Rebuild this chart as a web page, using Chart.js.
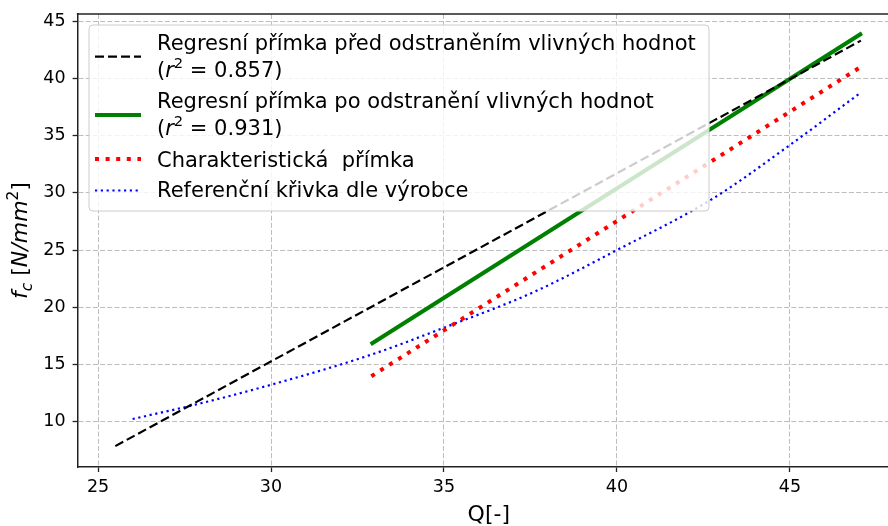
<!DOCTYPE html>
<html>
<head>
<meta charset="utf-8">
<script src="https://cdn.jsdelivr.net/npm/chart.js@4.4.1/dist/chart.umd.min.js"></script>
<style>
  html, body { margin: 0; padding: 0; background: #fff; overflow: hidden; width: 888px; height: 526px; }
  canvas { display: block; }
</style>
</head>
<body>
<canvas id="grafQ" width="900" height="526"></canvas>
<script>
// hodnoty
const qPred = [25.5, 47.05];
const fcPred = [7.83, 43.34];
const qPo = [32.88, 47.08];
const fcPo = [16.75, 43.98];
const qChar = [32.9, 47.08];
const fcChar = [13.95, 41.1];
const qRef = [26.0, 28.0, 30.0, 32.86, 35.0, 37.58, 40.0, 42.77, 45.0, 47.05];
const fcRef = [10.2, 11.6, 13.2, 15.8, 18.2, 21.3, 25.0, 29.5, 34.2, 38.8];
const xTicks = [25, 30, 35, 40, 45];
const yTicks = [10, 15, 20, 25, 30, 35, 40, 45];
const r2 = ['0.857', '0.931'];
const nazvy = [
  'Regresní přímka před odstraněním vlivných hodnot',
  'Regresní přímka po odstranění vlivných hodnot',
  'Charakteristická  přímka',
  'Referenční křivka dle výrobce'
];

const FONT = '"DejaVu Sans", sans-serif';
const body = (qs, fs) => qs.map((q, i) => ({ x: q, y: fs[i] }));

// text s kurzivou / indexy (jako mathtext)
function kusy(ctx, x, y, parts, size) {
  parts.forEach(p => {
    let s = size * (p.sc || 1);
    ctx.font = (p.it ? 'italic ' : '') + s + 'px ' + FONT;
    ctx.fillText(p.t, x, y + (p.dy || 0) * size);
    x += ctx.measureText(p.t).width;
  });
  return x;
}
function sirka(ctx, parts, size) {
  let w = 0;
  parts.forEach(p => {
    ctx.font = (p.it ? 'italic ' : '') + size * (p.sc || 1) + 'px ' + FONT;
    w += ctx.measureText(p.t).width;
  });
  return w;
}
const r2Kusy = v => [{ t: '(' }, { t: 'r', it: true }, { t: '2', sc: 0.7, dy: -0.42 }, { t: ' = ' + v + ')' }];

const legendaPlugin = {
  id: 'legendaPlugin',
  afterDatasetsDraw(chart) {
    const ctx = chart.ctx;
    const a = chart.chartArea;
    const ds = chart.data.datasets;
    const bx = a.left + 11.4, by = a.top + 11;
    ctx.save();
    ctx.beginPath();
    ctx.roundRect(bx, by, 620, 186, 4);
    ctx.fillStyle = 'rgba(255,255,255,0.8)';
    ctx.fill();
    ctx.strokeStyle = '#cccccc';
    ctx.lineWidth = 1;
    ctx.stroke();

    const handleY = [56.7, 115, 159, 190.5];
    handleY.forEach((hy, i) => {
      ctx.beginPath();
      ctx.setLineDash(ds[i].borderDash || []);
      ctx.lineWidth = ds[i].borderWidth;
      ctx.strokeStyle = ds[i].borderColor;
      ctx.moveTo(95, hy);
      ctx.lineTo(141, hy);
      ctx.stroke();
    });
    ctx.setLineDash([]);

    ctx.fillStyle = '#000';
    ctx.textBaseline = 'alphabetic';
    ctx.textAlign = 'left';
    const tx = 157;
    const fs = 21;
    kusy(ctx, tx, 50, [{ t: nazvy[0] }], fs);
    kusy(ctx, tx, 76.5, r2Kusy(r2[0]), fs);
    kusy(ctx, tx, 108, [{ t: nazvy[1] }], fs);
    kusy(ctx, tx, 134.5, r2Kusy(r2[1]), fs);
    kusy(ctx, tx, 166.5, [{ t: nazvy[2] }], fs);
    kusy(ctx, tx, 197, [{ t: nazvy[3] }], fs);
    ctx.restore();
  },
  afterDraw(chart) {
    const ctx = chart.ctx;
    const a = chart.chartArea;
    ctx.save();
    // horni ramecek
    ctx.strokeStyle = '#222';
    ctx.lineWidth = 1.5;
    ctx.beginPath();
    ctx.moveTo(a.left - 0.75, a.top);
    ctx.lineTo(a.right, a.top);
    ctx.stroke();

    ctx.fillStyle = '#000';
    ctx.textBaseline = 'alphabetic';
    ctx.textAlign = 'left';
    // popisek osy x
    const qx = [{ t: 'Q[-]' }];
    kusy(ctx, (a.left + a.right) / 2 - sirka(ctx, qx, 22) / 2, 521, qx, 22);

    // popisek osy y
    const fy = [
      { t: 'f', it: true }, { t: 'c', it: true, sc: 0.7, dy: 0.22 }, { t: ' [' },
      { t: 'N/mm', it: true }, { t: '2', sc: 0.7, dy: -0.42 }, { t: ']' }
    ];
    ctx.translate(27, (a.top + a.bottom) / 2);
    ctx.rotate(-Math.PI / 2);
    kusy(ctx, -sirka(ctx, fy, 22) / 2, 0, fy, 22);
    ctx.restore();
  }
};

const mrizka = {
  color: '#bdbdbd',
  lineWidth: 1,
  tickColor: '#222',
  tickWidth: 1.3,
  tickLength: 5,
  tickBorderDash: []
};
const ramecek = { color: '#222', width: 1.5, dash: [5, 2.2] };

new Chart(document.getElementById('grafQ').getContext('2d'), {
  type: 'line',
  data: {
    datasets: [
      {
        label: nazvy[0],
        data: body(qPred, fcPred),
        borderColor: '#000000',
        borderWidth: 2.2,
        borderDash: [9, 4],
        pointRadius: 0,
        fill: false
      },
      {
        label: nazvy[1],
        data: body(qPo, fcPo),
        borderColor: '#008000',
        borderWidth: 4,
        pointRadius: 0,
        fill: false
      },
      {
        label: nazvy[2],
        data: body(qChar, fcChar),
        borderColor: '#ff0000',
        borderWidth: 4,
        borderDash: [4, 6.6],
        pointRadius: 0,
        fill: false
      },
      {
        label: nazvy[3],
        data: body(qRef, fcRef),
        borderColor: '#0000ff',
        borderWidth: 2.2,
        borderDash: [2.2, 3.6],
        pointRadius: 0,
        cubicInterpolationMode: 'monotone',
        fill: false
      }
    ]
  },
  options: {
    responsive: false,
    animation: false,
    devicePixelRatio: 1,
    layout: { padding: { left: 0, top: 14, right: 0, bottom: 0 } },
    plugins: {
      legend: { display: false },
      tooltip: { enabled: false }
    },
    scales: {
      x: {
        type: 'linear',
        min: 24.41,
        max: 48.18,
        afterBuildTicks: s => { s.ticks = xTicks.map(v => ({ value: v })); },
        afterFit: s => { s.height = 59; s.paddingLeft = 0; s.paddingRight = 0; },
        grid: mrizka,
        border: ramecek,
        ticks: { color: '#000', padding: 5, font: { family: FONT, size: 17.5 } }
      },
      y: {
        type: 'linear',
        min: 6.0,
        max: 45.67,
        afterBuildTicks: s => { s.ticks = yTicks.map(v => ({ value: v })); },
        afterFit: s => { s.width = 77.6; s.paddingTop = 0; s.paddingBottom = 0; },
        grid: mrizka,
        border: ramecek,
        ticks: { color: '#000', padding: 7, font: { family: FONT, size: 17.5 } }
      }
    }
  },
  plugins: [legendaPlugin]
});
</script>
</body>
</html>
